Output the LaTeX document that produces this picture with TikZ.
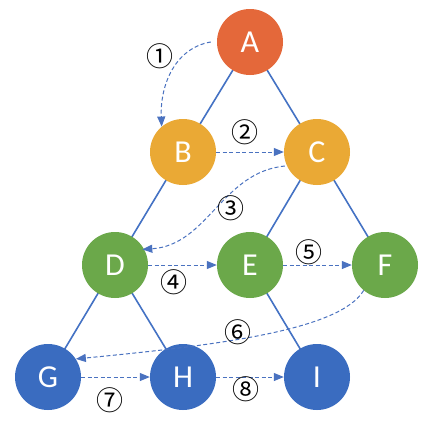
\documentclass[tikz,border=0pt]{standalone}
\usepackage{fontspec}
\setmainfont{Carlito}
\newfontfamily\numfont{Noto Sans CJK SC}
\usetikzlibrary{arrows.meta}
\definecolor{cA}{HTML}{E4683A}
\definecolor{cB}{HTML}{EAA935}
\definecolor{cD}{HTML}{6BA84A}
\definecolor{cG}{HTML}{3A6CC0}
\definecolor{edgec}{HTML}{4472C4}
\definecolor{dashc}{HTML}{4A72C0}
\tikzset{
  vert/.style={circle, minimum size=66pt, inner sep=0pt, text=white, font=\fontsize{32}{32}\selectfont},
  tree/.style={draw=edgec, line width=1.6pt},
  trav/.style={draw=dashc, line width=1pt, dash pattern=on 4pt off 2.5pt, -{Triangle[length=10pt,width=8pt]}},
  num/.style={font=\numfont\fontsize{27}{27}\selectfont, inner sep=0pt}
}
\begin{document}
\begin{tikzpicture}[x=1pt,y=-1pt]
\useasboundingbox (0,0) rectangle (444,442);
\fill[white] (0,0) rectangle (444,442);
% edges first
\coordinate (pA) at (250,42);
\coordinate (pB) at (183,152);
\coordinate (pC) at (317,152);
\coordinate (pD) at (115,265);
\coordinate (pE) at (250,265);
\coordinate (pF) at (385,265);
\coordinate (pG) at (48,377);
\coordinate (pH) at (183,377);
\coordinate (pI) at (317,377);
\draw[tree] (pA) -- (pB);
\draw[tree] (pA) -- (pC);
\draw[tree] (pB) -- (pD);
\draw[tree] (pC) -- (pE);
\draw[tree] (pC) -- (pF);
\draw[tree] (pD) -- (pG);
\draw[tree] (pD) -- (pH);
\draw[tree] (pE) -- (pI);
\node[vert, fill=cA] (A) at (pA) {A};
\node[vert, fill=cB] (B) at (pB) {B};
\node[vert, fill=cB] (C) at (pC) {C};
\node[vert, fill=cD] (D) at (pD) {D};
\node[vert, fill=cD] (E) at (pE) {E};
\node[vert, fill=cD] (F) at (pF) {F};
\node[vert, fill=cG] (G) at (pG) {G};
\node[vert, fill=cG] (H) at (pH) {H};
\node[vert, fill=cG] (I) at (pI) {I};
% traversal arrows
\draw[trav] ([xshift=-6pt]A.west) .. controls (175,48) and (160,85) .. (B.130);
\draw[trav] (B.east) -- (C.west);
\draw[trav] ([xshift=-2pt]C.205) .. controls (222,172) and (208,245) .. ([xshift=-2pt]D.28);
\draw[trav] (D.east) -- (E.west);
\draw[trav] (E.east) -- (F.west);
\draw[trav] (F.230) .. controls (340,330) and (220,345) .. (G.33);
\draw[trav] (G.east) -- (H.west);
\draw[trav] (H.east) -- (I.west);
% labels
\node[num] (n1) at (160,56) {①};
\node[num] (n2) at (245,132) {②};
\node[num] (n3) at (231,208) {③};
\node[num] (n4) at (174,282) {④};
\node[num] (n5) at (309,252) {⑤};
\node[num] (n6) at (238,332) {⑥};
\node[num] (n7) at (110,400) {⑦};
\node[num] (n8) at (246,389) {⑧};
\end{tikzpicture}
\end{document}
